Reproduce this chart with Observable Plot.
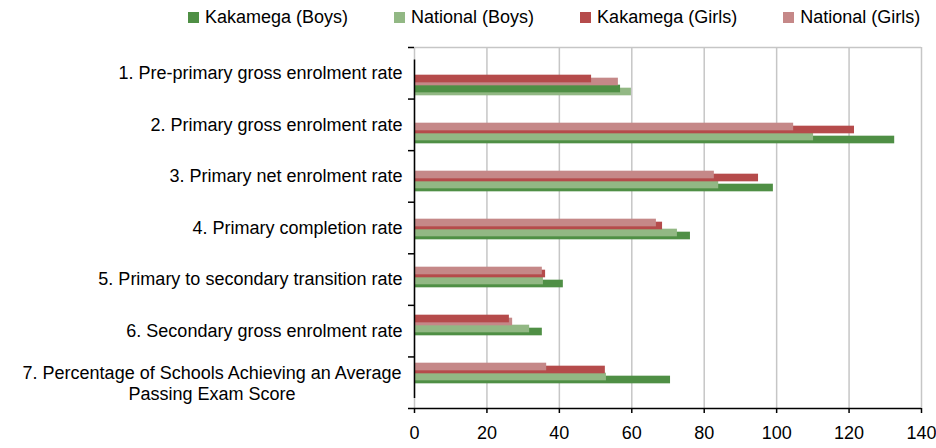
<!DOCTYPE html>
<html><head><meta charset="utf-8">
<script src="https://cdn.jsdelivr.net/npm/d3@7"></script>
<script src="https://cdn.jsdelivr.net/npm/@observablehq/plot@0.6"></script>
<style>
body{margin:0;background:#fff;font-family:"Liberation Sans",Arial,sans-serif;color:#000}
#legend{display:flex;gap:46px;padding-left:188px;height:35px;align-items:center;font-size:18px;box-sizing:border-box}
.item{display:flex;align-items:center;gap:6px;white-space:nowrap}
.sw{width:11px;height:11px;display:inline-block}
#chart{position:relative;width:936px;height:413px}
#chart svg{position:absolute;left:0;top:0}
</style></head><body>
<div id="legend"></div>
<div id="chart"></div>
<script>
const categories = [
  "1. Pre-primary gross enrolment rate",
  "2. Primary gross enrolment rate",
  "3. Primary net enrolment rate",
  "4. Primary completion rate",
  "5. Primary to secondary transition rate",
  "6. Secondary gross enrolment rate",
  "7. Percentage of Schools Achieving an Average\nPassing Exam Score"
];
const seriesNames = ["Kakamega (Boys)", "National (Boys)", "Kakamega (Girls)", "National (Girls)"];
const seriesColors = ["#4f8f45", "#92b884", "#b54b4b", "#c58888"];
const kakamegaBoys  = [56.9, 132.6, 99.1, 76.2, 41.1, 35.3, 70.7];
const nationalBoys  = [59.9, 110.2, 84.0, 72.6, 35.6, 31.8, 53.0];
const kakamegaGirls = [48.9, 121.5, 95.0, 68.5, 36.2, 26.2, 52.7];
const nationalGirls = [56.3, 104.7, 82.8, 66.8, 35.3, 27.1, 36.5];
const xTicks = [0, 20, 40, 60, 80, 100, 120, 140];

// legend
const legend = document.getElementById("legend");
seriesNames.forEach((name, i) => {
  const it = document.createElement("span"); it.className = "item";
  const sw = document.createElement("span"); sw.className = "sw"; sw.style.background = seriesColors[i];
  const tx = document.createElement("span"); tx.textContent = name;
  it.append(sw, tx); legend.append(it);
});

// build rows: per gender pair, smaller value drawn in front (upper slot), larger behind (lower slot)
const rows = [];
categories.forEach((c, i) => {
  const pairs = [
    {gender: "Girls", a: {series: seriesNames[2], value: kakamegaGirls[i]}, b: {series: seriesNames[3], value: nationalGirls[i]}},
    {gender: "Boys", a: {series: seriesNames[0], value: kakamegaBoys[i]}, b: {series: seriesNames[1], value: nationalBoys[i]}}
  ];
  for (const p of pairs) {
    const [front, back] = p.a.value <= p.b.value ? [p.a, p.b] : [p.b, p.a];
    rows.push({category: c, gender: p.gender, layer: "front", ...front});
    rows.push({category: c, gender: p.gender, layer: "back", ...back});
  }
});

const W = 936, H = 413;
const font = '"Liberation Sans", Arial, sans-serif';

// axis layer
const lineLabels = categories.map((c, i) => ({label: c, index: i}));
const single = lineLabels.filter(d => !d.label.includes("\n"));
const multi = lineLabels.filter(d => d.label.includes("\n"));
const ctx = document.createElement("canvas").getContext("2d");
ctx.font = '18px "Liberation Sans"';
const multiW = multi.length ? d3.max(multi[0].label.split("\n"), s => ctx.measureText(s).width) : 0;

const axisPlot = Plot.plot({
  width: W, height: H,
  marginTop: 12, marginBottom: 40, marginLeft: 414, marginRight: 15,
  style: {fontFamily: font, fontSize: "18px", color: "#000", background: "transparent", overflow: "visible"},
  x: {domain: [0, 140]},
  y: {domain: [0, categories.length], reverse: true},
  marks: [
    Plot.gridX(xTicks, {stroke: "#c6c6c6", strokeOpacity: 1, strokeWidth: 1.5}),
    Plot.ruleY([0], {stroke: "#c6c6c6", strokeWidth: 1.5}),
    Plot.ruleY([categories.length], {stroke: "#000", strokeWidth: 1.5}),
    Plot.axisX(xTicks, {tickSize: 5, tickPadding: 13, fontSize: 18, strokeWidth: 1.5, tickFormat: d3.format("d")}),
    Plot.axisY(d3.range(categories.length + 1), {tickSize: 6, strokeWidth: 1.5, tickFormat: () => ""}),
    Plot.text(single, {frameAnchor: "left", y: d => d.index + 0.5, text: "label", textAnchor: "end", lineAnchor: "middle", dx: -12, fontSize: 18, fill: "#000"}),
    Plot.text(multi, {frameAnchor: "left", y: d => d.index + 0.5, text: "label", textAnchor: "middle", lineAnchor: "middle", lineHeight: 1.2, dx: -12 - multiW / 2, fontSize: 18, fill: "#000"})
  ]
});

// bars layer
const mTop = 24.4, mBottom = 50.1;
const bw = (H - mTop - mBottom) / categories.length;
const barH = 8;
const slotTop = {GirlsFront: -10.5, GirlsBack: -7.5, BoysFront: -0.5, BoysBack: 2.5};
const slotMark = key => {
  const [g, l] = key.startsWith("Girls") ? ["Girls", key.slice(5)] : ["Boys", key.slice(4)];
  const t = slotTop[key];
  return Plot.barX(rows.filter(r => r.gender === g && r.layer === l.toLowerCase()), {
    x: "value", y: "category", fill: "series",
    insetTop: bw / 2 + t, insetBottom: bw / 2 - t - barH
  });
};
const barsPlot = Plot.plot({
  width: W, height: H,
  marginTop: mTop, marginBottom: mBottom, marginLeft: 414, marginRight: 15,
  style: {background: "transparent", overflow: "visible"},
  x: {domain: [0, 140], axis: null},
  y: {domain: categories, padding: 0, axis: null},
  color: {domain: seriesNames, range: seriesColors},
  marks: [
    slotMark("BoysBack"), slotMark("BoysFront"), slotMark("GirlsBack"), slotMark("GirlsFront"),
    Plot.ruleX([0], {stroke: "#000", strokeWidth: 1.5})
  ]
});

const chart = document.getElementById("chart");
chart.append(axisPlot, barsPlot);
</script>
</body></html>
